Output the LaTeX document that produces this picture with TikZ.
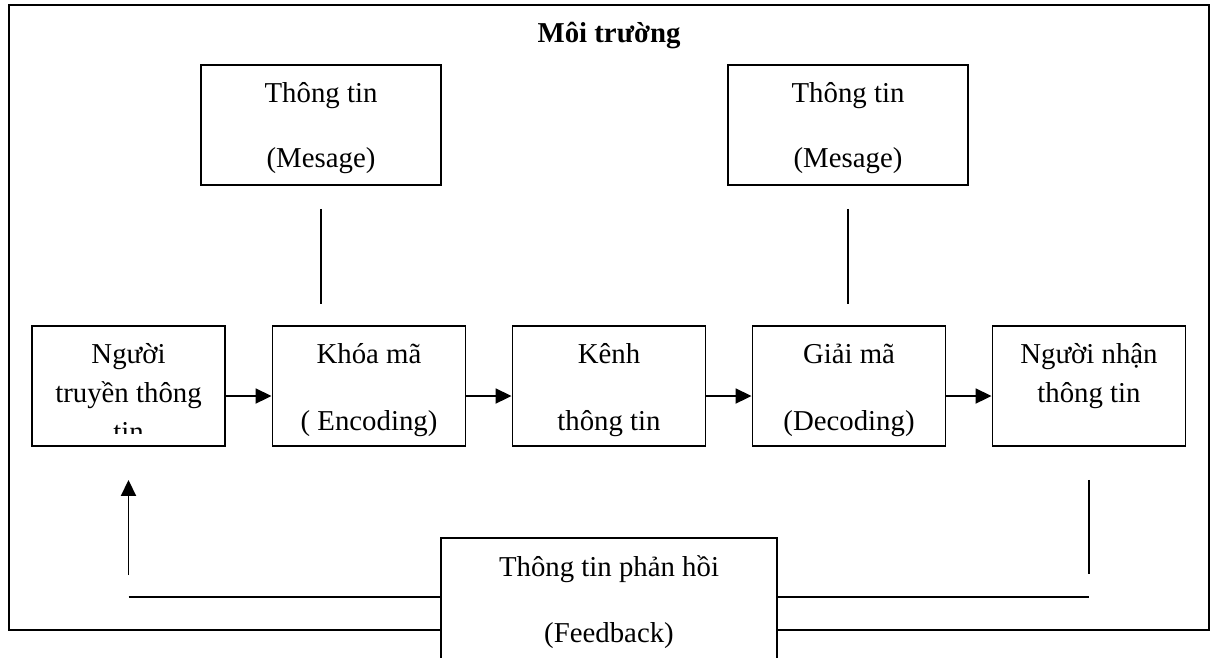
\documentclass[tikz,border=0pt]{standalone}
\usepackage{fontspec}
\setmainfont{Liberation Serif}
\usetikzlibrary{arrows.meta}
\begin{document}
\begin{tikzpicture}[x=1pt,y=-1pt,
  ln/.style={line width=1.9pt},
  arr/.style={line width=1.9pt,-{Triangle[length=16pt,width=15pt]}},
  box/.style={draw,line width=1.9pt,minimum width=193pt,minimum height=120pt,inner sep=0pt},
  msgbox/.style={draw,line width=1.9pt,minimum width=240pt,minimum height=120pt,inner sep=0pt},
  txt/.style={anchor=base,inner sep=0pt,font=\fontsize{28.8pt}{34pt}\selectfont}
]
\useasboundingbox (0,0) rectangle (1214,657);
\clip (0,0) rectangle (1214,657);
% environment frame
\draw[ln] (9,5) rectangle (1209,630);
\node[txt,font=\fontsize{28.8pt}{34pt}\selectfont\bfseries] (title) at (609,42) {Môi trường};
% message boxes
\node[msgbox] (m1) at (321,125) {};
\node[txt] (m1a) at (321,102) {Thông tin};
\node[txt] (m1b) at (321,167) {(Mesage)};
\node[msgbox] (m2) at (848,125) {};
\node[txt] (m2a) at (848,102) {Thông tin};
\node[txt] (m2b) at (848,167) {(Mesage)};
% main chain
\node[box] (b1) at (128.5,386) {};
\node[box] (b2) at (369,386) {};
\node[box] (b3) at (609,386) {};
\node[box] (b4) at (849,386) {};
\node[box] (b5) at (1089,386) {};
\node[txt] (b1a) at (128.5,363) {Người};
\node[txt] (b1b) at (128.5,402) {truyền thông};
\begin{scope}
  \clip (b1.north west) rectangle ([yshift=13pt]b1.south east);
  \node[txt] (b1c) at (128.5,441) {tin};
\end{scope}
\node[txt] (b2a) at (369,363) {Khóa mã};
\node[txt] (b2b) at (369,430) {( Encoding)};
\node[txt] (b3a) at (609,363) {Kênh};
\node[txt] (b3b) at (609,430) {thông tin};
\node[txt] (b4a) at (849,363) {Giải mã};
\node[txt] (b4b) at (849,430) {(Decoding)};
\node[txt] (b5a) at (1089,363) {Người nhận};
\node[txt] (b5b) at (1089,402) {thông tin};
\draw[arr] ([yshift=-10pt]b1.east) -- ([yshift=-10pt]b2.west);
\draw[arr] ([yshift=-10pt]b2.east) -- ([yshift=-10pt]b3.west);
\draw[arr] ([yshift=-10pt]b3.east) -- ([yshift=-10pt]b4.west);
\draw[arr] ([yshift=-10pt]b4.east) -- ([yshift=-10pt]b5.west);
% message lines
\draw[ln] ([yshift=-23pt]m1.south) -- ([yshift=-118pt]m1.south);
\draw[ln] ([yshift=-23pt]m2.south) -- ([yshift=-118pt]m2.south);
% feedback
\node[draw,fill=white,line width=1.9pt,minimum width=336pt,minimum height=140pt,inner sep=0pt] (fb) at (609,608) {};
\node[txt] (fba) at (609,576) {Thông tin phản hồi};
\node[txt] (fbb) at (609,642) {(Feedback)};
\coordinate (fbl) at (128.5,575);
\coordinate (hl) at (128.5,597);
\coordinate (fbr) at (1089,574);
\coordinate (hr) at (1089,597);
\draw[arr] (fbl) -- ([yshift=-33pt]b1.south);
\draw[ln] (hl) -- (hl -| fb.west);
\draw[ln] ([yshift=-33pt]b5.south) -- (fbr);
\draw[ln] (fb.east |- hr) -- (hr);
\end{tikzpicture}
\end{document}
